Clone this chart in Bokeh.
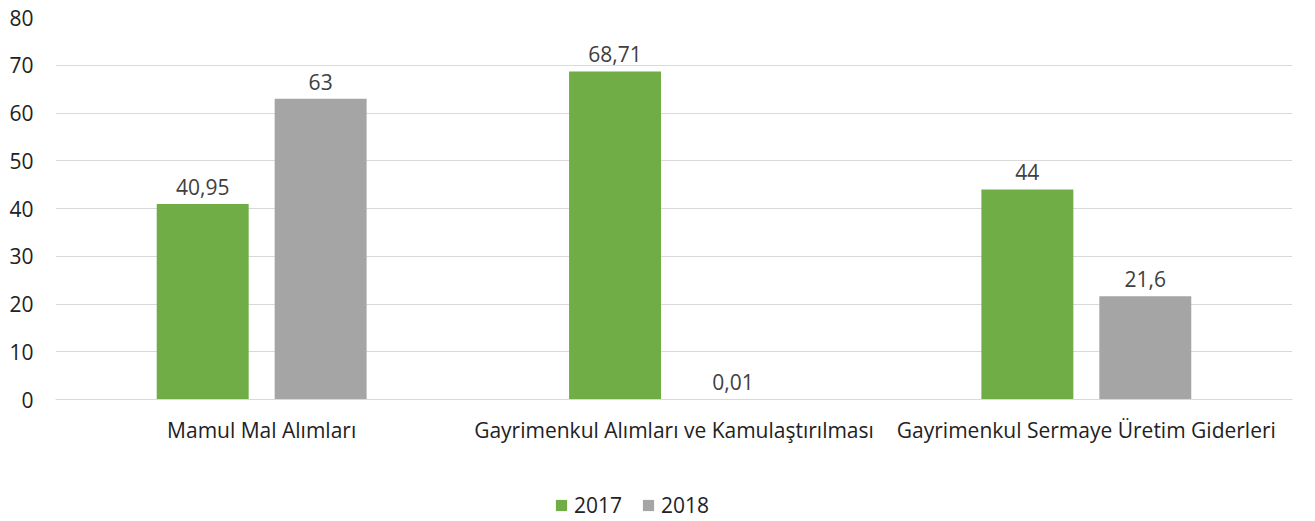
from bokeh.plotting import figure
from bokeh.models import ColumnDataSource, FactorRange, Range1d, Legend, LegendItem, FixedTicker
from bokeh.transform import dodge
from bokeh.core.properties import value
from bokeh.embed import file_html
from bokeh.resources import INLINE

categories = ["Mamul Mal Alımları", "Gayrimenkul Alımları ve Kamulaştırılması", "Gayrimenkul Sermaye Üretim Giderleri"]
series_names = ["2017", "2018"]
values_2017 = [40.95, 68.71, 44]
values_2018 = [63, 0.01, 21.6]
y_ticks = [0, 10, 20, 30, 40, 50, 60, 70, 80]
colors = ["#70AD47", "#A5A5A5"]

def fmt(v):
    return f"{v:g}".replace(".", ",")

FONT = "Open Sans"

src = ColumnDataSource(dict(
    cat=categories,
    v2017=values_2017,
    v2018=values_2018,
    l2017=[fmt(v) for v in values_2017],
    l2018=[fmt(v) for v in values_2018],
))

# plot area: 80 units over 382 px; extra room below zero holds axis labels + legend
H = 520
top_px, bottom_px = 17, 0
frame_h = H - top_px - bottom_px
y_max = y_ticks[-1]
y_min = -(frame_h - 382) * y_max / 382

p = figure(x_range=FactorRange(*categories), y_range=Range1d(y_min, y_max),
           width=1300, height=H, output_backend="svg", toolbar_location=None,
           min_border_left=55, min_border_right=8, min_border_top=top_px, min_border_bottom=bottom_px)
p.outline_line_color = None
p.x_range.range_padding = 0

bw = 0.223
off = 0.143
r1 = p.vbar(x=dodge("cat", -off, range=p.x_range), top="v2017", width=bw, source=src,
            fill_color=colors[0], line_color=None)
r2 = p.vbar(x=dodge("cat", off, range=p.x_range), top="v2018", width=bw, source=src,
            fill_color=colors[1], line_color=None)

for col, lab, o in (("v2017", "l2017", -off), ("v2018", "l2018", off)):
    p.text(x=dodge("cat", o, range=p.x_range), y=col, text=lab, source=src,
           text_align="center", text_baseline="alphabetic", y_offset=-17,
           text_font=value(FONT), text_font_size="21px", text_color="#404040")

p.yaxis.ticker = FixedTicker(ticks=y_ticks)
p.yaxis.axis_line_color = None
p.yaxis.major_tick_line_color = None
p.yaxis.minor_tick_line_color = None
p.yaxis.major_label_standoff = 16
p.yaxis.major_label_text_font = FONT
p.yaxis.major_label_text_font_size = "21px"
p.yaxis.major_label_text_color = "#222222"

p.xaxis.fixed_location = 0
p.xaxis.axis_line_color = "#D9D9D9"
p.xaxis.major_tick_line_color = None
p.xaxis.minor_tick_line_color = None
p.xaxis.major_label_standoff = 10
p.xaxis.major_label_text_font = FONT
p.xaxis.major_label_text_font_size = "21px"
p.xaxis.major_label_text_color = "#222222"

p.xgrid.grid_line_color = None
p.ygrid.ticker = FixedTicker(ticks=y_ticks)
p.ygrid.grid_line_color = "#D9D9D9"
p.ygrid.grid_line_width = 1

legend = Legend(items=[LegendItem(label=series_names[0], renderers=[r1]),
                       LegendItem(label=series_names[1], renderers=[r2])],
                location=(499, 1), orientation="horizontal",
                glyph_width=14, glyph_height=14, label_standoff=6, spacing=19,
                padding=0, margin=0, border_line_color=None, background_fill_alpha=0,
                label_text_font=FONT, label_text_font_size="21px", label_text_color="#222222",
                label_height=18)
p.add_layout(legend, "center")

open("out.html", "w").write(file_html(p, INLINE))
